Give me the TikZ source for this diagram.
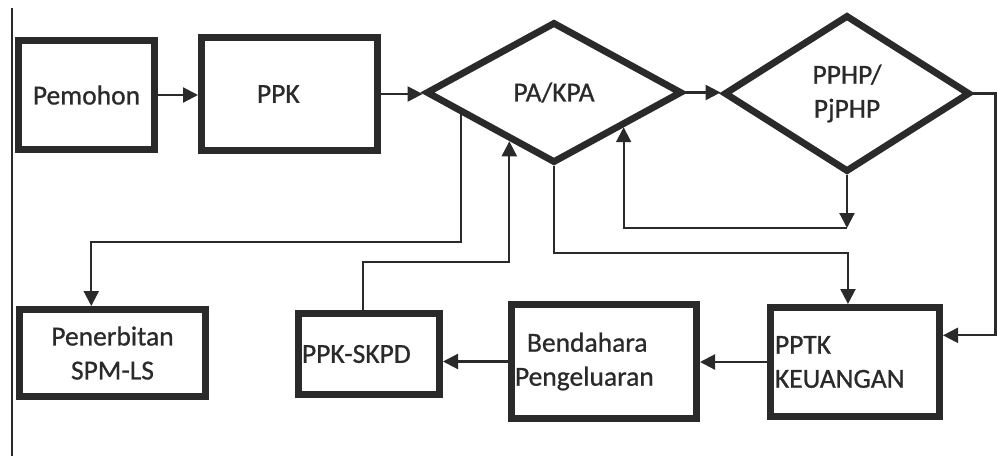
\documentclass[tikz,border=0pt]{standalone}
\usepackage{fontspec}
\setmainfont[FakeBold=0.8,AutoFakeBold=0.8]{Carlito}
\usepackage{tikz}
\usetikzlibrary{arrows.meta,calc,shapes.geometric}
\definecolor{Ink}{HTML}{2A2A2A}

\tikzset{
  box/.style={draw=Ink,line width=3.5pt,text=Ink,inner sep=0pt},
  dia/.style={diamond,draw=Ink,line width=3.4pt,text=Ink,inner sep=0pt,align=center},
  link/.style={draw=Ink,line width=1.1pt,->},
}

\begin{document}
\begin{tikzpicture}[x=0.5pt,y=-0.5pt,>={Triangle[length=7.5pt,width=7.5pt]},
    font=\fontsize{13.75}{17}\selectfont\bfseries]
  \useasboundingbox (0,0) rectangle (997,456);
  \draw[Ink,line width=0.8pt] (12,8) -- (12,456);
  % upper row
  \node[box,minimum width=68pt,minimum height=54.5pt] (pem) at (86.5,95) {Pemohon};
  \node[box,minimum width=88pt,minimum height=56.5pt,text width=32.5pt,inner xsep=27.75pt,align=left] (ppk) at (289.5,94) {PPK};
  \node[dia,minimum width=128pt,minimum height=70.5pt] (pa) at (554,92.5) {PA/KPA};
  \node[dia,minimum width=123pt,minimum height=78.5pt] (pphp) at (847,93.5) {PPHP/\\PjPHP};
  % lower row
  \node[box,minimum width=93pt,minimum height=43.5pt,align=center] (pen) at (112.5,353) {Penerbitan\\SPM-LS};
  \node[box,minimum width=70.5pt,minimum height=40.5pt,text width=67pt,inner xsep=1.75pt,align=left] (skpd) at (369,354) {PPK-SKPD};
  \node[box,minimum width=92.5pt,minimum height=57pt,text width=89pt,inner xsep=1.75pt,align=left] (bend) at (604,361.5) {\hspace*{6pt}Bendahara\\Pengeluaran};
  \node[box,minimum width=84.5pt,minimum height=54.5pt,text width=80pt,inner xsep=2.25pt,align=left] (pptk) at (855,362) {PPTK\\KEUANGAN};
  % points on the edges
  \coordinate (paA) at ($(pa.west)!0.29!(pa.south)$);
  \coordinate (paB) at ($(pa.west)!0.66!(pa.south)$);
  \coordinate (paC) at ($(pa.south)!0.53!(pa.east)$);
  \coordinate (penT) at ($(pen.north west)!0.39!(pen.north east)$);
  \coordinate (skpdT) at ($(skpd.north west)!0.46!(skpd.north east)$);
  \coordinate (pptkT) at ($(pptk.north west)!0.46!(pptk.north east)$);
  \coordinate (pptkR) at ($(pptk.north east)!0.27!(pptk.south east)$);
  \coordinate (ret) at (pphp.south |- 0,228);
  % connectors
  \draw[link] (pem.east) -- (pem.east -| ppk.west);
  \draw[link] (ppk.east) -- (ppk.east -| pa.west);
  \draw[link] (pa.east) -- (pa.east -| pphp.west);
  \draw[link] (pphp.east) -- ++(22,0) |- (pptkR);
  \draw[link] (pphp.south) -- (ret);
  \draw[link] (ret) -| (paC);
  \draw[link] (pa.south) -- (pa.south |- 0,253) -| (pptkT);
  \draw[link] (paA) -- (paA |- 0,242) -| (penT);
  \draw[link] (skpdT) -- (skpdT |- 0,262) -| (paB);
  \draw[link] (pptk.west) -- (pptk.west -| bend.east);
  \draw[link] (bend.west) -- (bend.west -| skpd.east);
\end{tikzpicture}
\end{document}
